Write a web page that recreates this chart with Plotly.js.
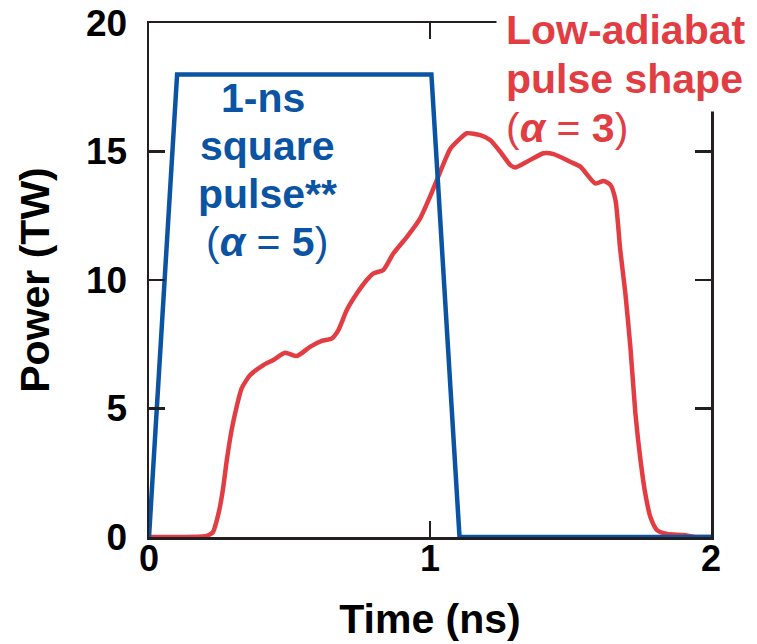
<!DOCTYPE html>
<html>
<head>
<meta charset="utf-8">
<script src="https://cdn.plot.ly/plotly-3.0.1.min.js"></script>
<style>html,body{margin:0;padding:0;background:#fff;}#chart{width:757px;height:644px;}</style>
</head>
<body>
<div id="chart"></div>
<script>
// Square pulse (alpha = 5)
var squareTime  = [0, 0.1, 1.005, 1.105, 2.0];
var squarePower = [0, 18, 18, 0, 0];

// Low-adiabat pulse shape (alpha = 3)
var shapedTime = [0, 0.1, 0.2, 0.217, 0.228, 0.24, 0.253, 0.265, 0.277, 0.294, 0.312, 0.33, 0.36, 0.407, 0.443,
  0.484, 0.526, 0.573, 0.615, 0.651, 0.674, 0.704, 0.74, 0.775, 0.799, 0.834, 0.87, 0.918, 0.965, 1.0,
  1.036, 1.072, 1.108, 1.131, 1.179, 1.214, 1.25, 1.286, 1.303, 1.345, 1.404, 1.44, 1.499, 1.535, 1.588,
  1.618, 1.642, 1.66, 1.677, 1.695, 1.713, 1.731, 1.749, 1.766, 1.784, 1.808, 1.844, 1.9, 1.95, 2.0];
var shapedPower = [0, 0, 0.03, 0.1, 0.2, 0.6, 1.2, 2.0, 3.0, 4.16, 5.07, 5.79, 6.3, 6.69, 6.89,
  7.17, 7.04, 7.4, 7.63, 7.73, 8.05, 8.83, 9.48, 10.0, 10.26, 10.39, 11.04, 11.68, 12.4, 13.24,
  14.2, 15.1, 15.51, 15.71, 15.64, 15.45, 14.99, 14.47, 14.38, 14.6, 14.93, 14.9, 14.6, 14.41, 13.76,
  13.85, 13.7, 13.11, 11.17, 9.5, 7.4, 4.81, 3.0, 1.7, 0.79, 0.27, 0.12, 0.08, 0.0, 0.0];

var xTickVals = [0, 1, 2];
var xTickText = ['0', '1', '2'];
var yTickVals = [0, 5, 10, 15, 20];
var yTickText = ['0', '5', '10', '15', '20'];

var squareLabel = ['<b>1-ns</b>', '<b>square</b>', '<b>pulse**</b>', '(<b><i>α</i></b> = <b>5</b>)'];
var squareLabelX = [0.404, 0.42, 0.42, 0.42];
var squareLabelY = [17.08, 15.21, 13.35, 11.48];

var shapedLabel = ['<b>Low-adiabat</b>', '<b>pulse shape</b>', '(<b><i>α</i></b> = <b>3</b>)'];
var shapedLabelX = [1.234, 1.234, 1.234];
var shapedLabelY = [19.73, 17.82, 15.91];

var BLUE = '#0b54a4';
var RED = '#e23d42';
var AXIS = '#231f20';
var FONT = 'Liberation Sans, Arial, Helvetica, sans-serif';

var traces = [
  {x: shapedTime, y: shapedPower, type: 'scatter', mode: 'lines',
   line: {color: RED, width: 4.5, shape: 'spline', smoothing: 0.6}, hoverinfo: 'skip', cliponaxis: false},
  {x: squareTime, y: squarePower, type: 'scatter', mode: 'lines',
   line: {color: BLUE, width: 4.5}, hoverinfo: 'skip', cliponaxis: false}
];

var annotations = [];
squareLabel.forEach(function (t, i) {
  annotations.push({xref: 'x', yref: 'y', x: squareLabelX[i], y: squareLabelY[i], text: t,
    showarrow: false, xanchor: 'center', yanchor: 'middle',
    font: {family: FONT, size: 41, color: BLUE}});
});
shapedLabel.forEach(function (t, i) {
  annotations.push({xref: 'x', yref: 'y', x: shapedLabelX[i], y: shapedLabelY[i], text: t,
    showarrow: false, xanchor: 'left', yanchor: 'middle', bgcolor: i < 2 ? '#ffffff' : 'rgba(0,0,0,0)',
    borderpad: 9, font: {family: FONT, size: 41, color: RED}});
});

var layout = {
  width: 757, height: 644,
  margin: {l: 149, r: 46, t: 23, b: 107, pad: 0},
  paper_bgcolor: '#ffffff', plot_bgcolor: '#ffffff',
  showlegend: false,
  font: {family: FONT, color: '#000000'},
  xaxis: {
    range: [0, 2], tickvals: xTickVals, ticktext: xTickText,
    ticks: 'inside', ticklen: 16, tickwidth: 2.5, tickcolor: AXIS,
    showline: true, linecolor: AXIS, linewidth: 2.5, mirror: 'ticks',
    showgrid: false, zeroline: false, ticklabelstandoff: -12,
    tickfont: {family: FONT, size: 36, color: '#000', weight: 'bold'},
    title: {text: 'Time (ns)', standoff: 27, font: {family: FONT, size: 41, color: '#000', weight: 'bold'}},
    automargin: false, fixedrange: true
  },
  yaxis: {
    range: [0, 20], tickvals: yTickVals, ticktext: yTickText,
    ticks: 'inside', ticklen: 16, tickwidth: 2.5, tickcolor: AXIS,
    showline: true, linecolor: AXIS, linewidth: 2.5, mirror: 'ticks',
    showgrid: false, zeroline: false, ticklabelstandoff: 12,
    tickfont: {family: FONT, size: 37, color: '#000', weight: 'bold'},
    title: {text: 'Power (TW)', standoff: 24, font: {family: FONT, size: 41, color: '#000', weight: 'bold'}},
    automargin: false, fixedrange: true
  },
  annotations: annotations
};

Plotly.newPlot('chart', traces, layout, {staticPlot: true, displayModeBar: false});
</script>
</body>
</html>
